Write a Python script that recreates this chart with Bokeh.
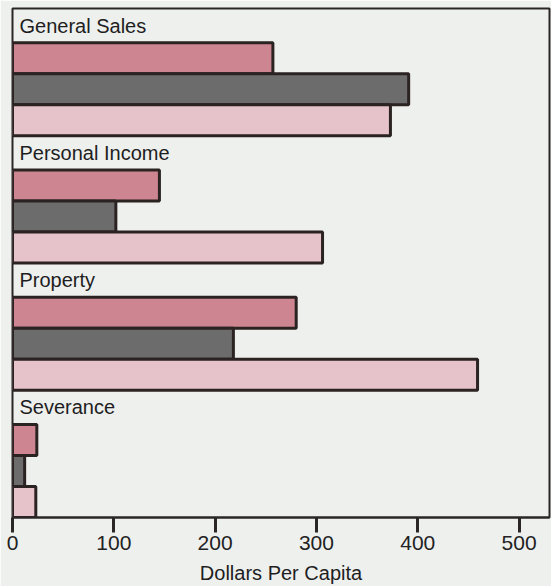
from bokeh.plotting import figure
from bokeh.models import Range1d, FixedTicker, ColumnDataSource
from bokeh.core.properties import value
from bokeh.embed import file_html
from bokeh.resources import INLINE

categories = ["General Sales", "Personal Income", "Property", "Severance"]
series_a = [257, 145, 280, 24]   # pink
series_b = [391, 102, 218, 12]   # dark gray
series_c = [373, 306, 459, 23]   # light pink
ticks = [0, 100, 200, 300, 400, 500]

colors = ["#cc8591", "#6d6c6d", "#e6c2ca"]
LABEL_H = 1.1
GROUP_H = LABEL_H + 3

ys, rights, fills = [], [], []
for g in range(len(categories)):
    for k, s in enumerate([series_a, series_b, series_c]):
        ys.append(g * GROUP_H + LABEL_H + k + 0.5)
        rights.append(s[g])
        fills.append(colors[k])
src = ColumnDataSource(dict(y=ys, right=rights, fill=fills))
lab = ColumnDataSource(dict(y=[g * GROUP_H + LABEL_H / 2 for g in range(len(categories))],
                            x=[0] * len(categories), text=categories))

p = figure(width=551, height=586, output_backend="svg", toolbar_location=None,
           x_range=Range1d(0, 530), y_range=Range1d(GROUP_H * len(categories), 0),
           min_border_left=12, min_border_right=2, min_border_top=8, min_border_bottom=0)
p.background_fill_color = "#eef0ee"
p.border_fill_color = "#eef0ee"
p.outline_line_color = "#2b2626"
p.outline_line_width = 2
p.grid.visible = False
p.yaxis.visible = False

p.hbar(y="y", left=0, right="right", height=1, fill_color="fill", source=src,
       line_color="#2b2222", line_width=3)
p.text(x="x", y="y", text="text", source=lab, x_offset=7, text_baseline="middle",
       text_align="left", text_font=value("Liberation Sans"), text_font_size="20px",
       text_color="#1e1e1e")

ax = p.xaxis[0]
ax.ticker = FixedTicker(ticks=ticks)
ax.axis_line_color = "#2b2626"
ax.axis_line_width = 2
ax.major_tick_in = 0
ax.major_tick_out = 15
ax.major_tick_line_width = 3
ax.major_tick_line_color = "#2b2626"
ax.minor_tick_line_color = None
ax.major_label_text_font = "Liberation Sans"
ax.major_label_text_font_size = "21px"
ax.major_label_text_color = "#222222"
ax.major_label_standoff = 3
ax.axis_label = "Dollars Per Capita"
ax.axis_label_text_font = "Liberation Sans"
ax.axis_label_text_font_size = "20px"
ax.axis_label_text_font_style = "normal"
ax.axis_label_text_color = "#1e1e1e"
ax.axis_label_standoff = 9

open("out.html", "w").write(file_html(p, INLINE))
